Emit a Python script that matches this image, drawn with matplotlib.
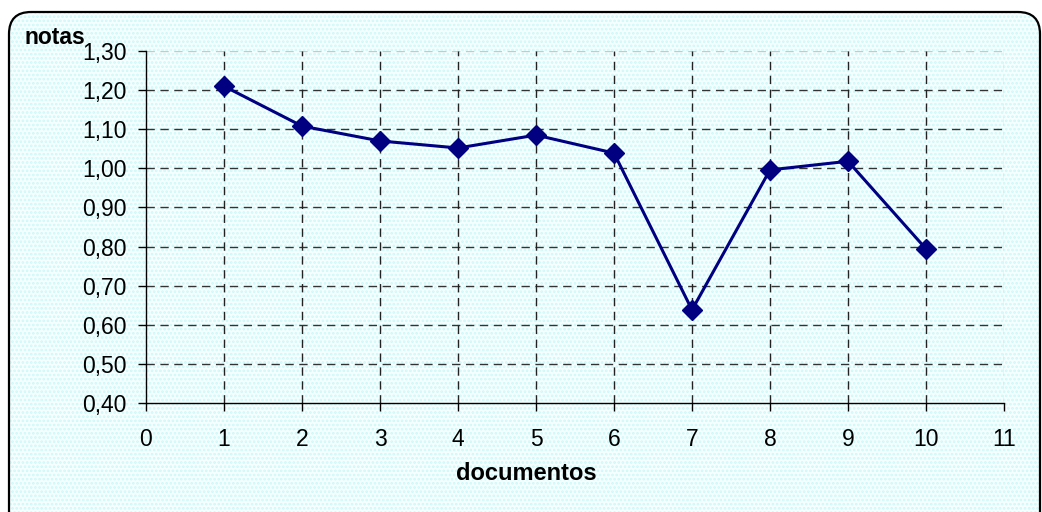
import matplotlib
matplotlib.use("Agg")
import matplotlib.pyplot as plt
from matplotlib.patches import FancyBboxPatch
from matplotlib.ticker import FuncFormatter

documentos = [1, 2, 3, 4, 5, 6, 7, 8, 9, 10]
notas = [1.21, 1.108, 1.07, 1.052, 1.085, 1.039, 0.638, 0.996, 1.018, 0.794]
x_ticks = list(range(0, 12))
y_ticks = [0.4, 0.5, 0.6, 0.7, 0.8, 0.9, 1.0, 1.1, 1.2, 1.3]

plt.rcParams['font.family'] = ['Liberation Sans', 'DejaVu Sans']
plt.rcParams['hatch.linewidth'] = 1.3

W, H = 1042, 512
fig = plt.figure(figsize=(W / 100, H / 100), dpi=100)
fig.patch.set_facecolor('white')

# background axes in pixel coordinates
bgax = fig.add_axes([0, 0, 1, 1], zorder=-5)
bgax.set_xlim(0, W)
bgax.set_ylim(H, 0)
bgax.axis('off')
bg = FancyBboxPatch((9, 12), 1031, 530,
                    boxstyle="round,pad=0,rounding_size=22",
                    facecolor='#f6ffff', edgecolor='#cdf8f8', hatch='....',
                    linewidth=0, zorder=0)
bgax.add_patch(bg)
frame = FancyBboxPatch((9, 12), 1031, 530,
                       boxstyle="round,pad=0,rounding_size=22",
                       facecolor='none', edgecolor='black', linewidth=1.6,
                       zorder=1)
bgax.add_patch(frame)
bgax.text(25, 37, 'notas', fontsize=16.5, fontweight='bold', ha='left',
          va='center')

ax = fig.add_axes([146 / W, 1 - 403 / H, (1004 - 146) / W, (403 - 51) / H])
ax.set_facecolor('none')
ax.set_xlim(0, 11)
ax.set_ylim(0.4, 1.3)
ax.set_xticks(x_ticks)
ax.set_yticks(y_ticks)
ax.yaxis.set_major_formatter(FuncFormatter(lambda v, p: f"{v:.2f}".replace('.', ',')))

for s in ['top', 'right']:
    ax.spines[s].set_visible(False)
for s in ['left', 'bottom']:
    ax.spines[s].set_color('black')
    ax.spines[s].set_linewidth(1.0)

ax.tick_params(axis='both', which='major', labelsize=16.5, length=6, width=1,
               color='black', direction='out')
ax.tick_params(axis='x', pad=12)
ax.tick_params(axis='y', pad=8)

# grid
for yv in y_ticks[1:]:
    col = '#c8c8c8' if yv == y_ticks[-1] else '#333333'
    ax.axhline(yv, color=col, lw=1.0, dashes=(6, 4), zorder=1)
for xv in x_ticks[1:]:
    col = '#c8c8c8' if xv == x_ticks[-1] else '#222222'
    ax.axvline(xv, color=col, lw=1.0, dashes=(6, 4), zorder=1)

ax.plot(documentos, notas, color='#000080', lw=2.2, marker='D',
        markersize=10, markerfacecolor='#000080', markeredgecolor='#000080',
        zorder=3, clip_on=False)

ax.set_xlabel('documentos', fontsize=17, fontweight='bold')
ax.xaxis.set_label_coords((526 - 146) / 858, (403 - 474) / 352)
ax.xaxis.label.set_va('center')

fig.savefig('out.png', dpi=100)
